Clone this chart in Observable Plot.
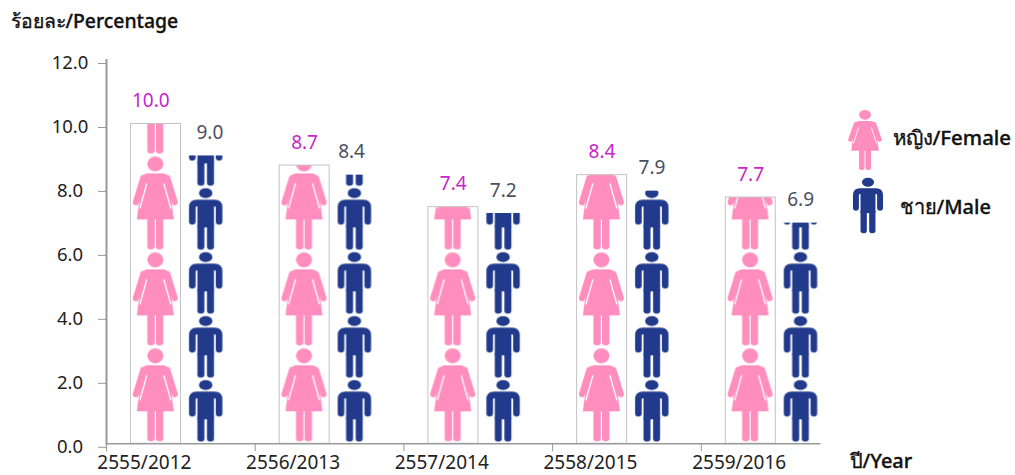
<!DOCTYPE html>
<html><head><meta charset="utf-8">
<script src="https://cdn.jsdelivr.net/npm/d3@7"></script>
<script src="https://cdn.jsdelivr.net/npm/@observablehq/plot@0.6"></script>
<style>html,body{margin:0;padding:0;background:#fff}svg{display:block}</style>
</head><body><div id="chart"></div>
<script>
const years = ["2555/2012","2556/2013","2557/2014","2558/2015","2559/2016"];
const female = [10.0,8.7,7.4,8.4,7.7];
const male = [9.0,8.4,7.2,7.9,6.9];
const yTicks = [0,2,4,6,8,10,12];
const femaleRows = years.map((year,i)=>({year,value:female[i]}));
const maleRows = years.map((year,i)=>({year,value:male[i]}));

const PINK="#ff8dbe", NAVY="#223a8b";
const FONT='"Noto Sans", sans-serif';
const W=1015,H=475,L=106,T=59.5,B=31.7;
const note=(t,x,y,o={})=>Plot.text([t],{text:d=>d,frameAnchor:"top-left",dx:x-L,dy:y-T,textAnchor:"start",lineAnchor:"middle",fontSize:20,fontWeight:500,fill:"#111",stroke:"#111",strokeWidth:0.35,...o});
const valueLabels=(rows,dx,fill,firstDx,secondDx)=>rows.map((r,i)=>Plot.text([r],{x:"year",y:"value",text:d=>d.value.toFixed(1),dx:dx+(i===0?firstDx:i===1?secondDx:0),dy:-23,fontSize:19,fill}));

const plot=Plot.plot({
  width:W,height:H,marginLeft:L,marginTop:T,marginBottom:B,marginRight:W-849.5,
  style:{fontFamily:FONT,background:"#fff",overflow:"visible"},
  x:{type:"band",domain:years,range:[L,849.5],padding:0,round:false,axis:null},
  y:{domain:[0,12],range:[H-B,T],axis:null},
  marks:[
    Plot.barY(femaleRows,{x:"year",y:"value",fill:"url(#femaleTile)",stroke:"#c4c4c4",strokeWidth:1,insetLeft:24.5,insetRight:74.2}),
    Plot.barY(maleRows,{x:"year",y:"value",fill:"url(#maleTile)",insetLeft:78,insetRight:30}),
    Plot.ruleY([0],{stroke:"#999",strokeWidth:1.5,insetRight:29}),
    Plot.frame({anchor:"left",stroke:"#999",strokeWidth:2}),
    Plot.axisY({ticks:yTicks,tickSize:8,tickPadding:28.5,textAnchor:"middle",dy:3.5,tickFormat:d=>d.toFixed(1),fontSize:18.5,stroke:"#999",fill:"#222",label:null}),
    Plot.axisX({tickSize:8,dx:-74.35,text:null,stroke:"#999",label:null}),
    Plot.axisX({tickSize:0,tickPadding:12,dx:-36.5,fontSize:19,fill:"#222",label:null}),
    ...valueLabels(femaleRows,-25,"#c826c8",-5,0),
    ...valueLabels(maleRows,25,"#4a5060",4,-3),
    note("ร้อยละ/Percentage",10,21,{fontSize:19.4}),
    note("ปี/Year",849,461),
    note("หญิง/Female",892,138,{fontSize:20.4}),
    note("ชาย/Male",899,207)
  ]
});

const figureFemale=`<ellipse cx="0" cy="-87.5" rx="8" ry="7.5"/>
<path d="M-8,-78H8Q11.5,-78 13,-74L18.5,-32H-18.5L-13,-74Q-11.5,-78 -8,-78Z"/>
<path d="M-12,-73.5L-19.5,-49M12,-73.5L19.5,-49" fill="none" stroke="${PINK}" stroke-width="6" stroke-linecap="round"/>
<path d="M-8.5,-68L-15.5,-43M8.5,-68L15.5,-43" fill="none" stroke="#fff" stroke-width="1.3"/>
<rect x="-8" y="-36" width="7.4" height="34" rx="3"/><rect x="0.6" y="-36" width="7.4" height="34" rx="3"/>`;
const figureMale=`<ellipse cx="0" cy="-58.3" rx="6.7" ry="5"/>
<path d="M-13.4,-30V-44Q-13.4,-48.4 -9,-48.4H9Q13.4,-48.4 13.4,-44V-30" fill="none" stroke="${NAVY}" stroke-width="6.6" stroke-linecap="round"/>
<rect x="-8.3" y="-50" width="16.6" height="26"/>
<rect x="-8.3" y="-28" width="7" height="26.3" rx="3"/><rect x="1.3" y="-28" width="7" height="26.3" rx="3"/>`;

const svg=d3.select(plot);
const xs=plot.scale("x"), ys=plot.scale("y");
const x0=xs.apply(years[0]), step=xs.step, base=ys.apply(0);
const defs=svg.insert("defs",":first-child");
function tile(id,units,cx,color,shape){
  const h=base-ys.apply(units);
  const p=defs.append("pattern").attr("id",id).attr("patternUnits","userSpaceOnUse")
    .attr("width",step).attr("height",h).attr("patternTransform",`translate(${x0},${base-h})`);
  p.append("rect").attr("width",step).attr("height",h).attr("fill","#fff");
  p.append("g").attr("transform",`translate(${cx},${h})`).attr("fill",color).html(shape);
}
tile("femaleTile",3,49.3,PINK,figureFemale);
tile("maleTile",2,99.7,NAVY,figureMale);
svg.append("g").attr("transform","translate(865,171.3) scale(0.75,0.645)").attr("fill",PINK).html(figureFemale);
svg.append("g").attr("transform","translate(868,234.7) scale(0.9,0.9)").attr("fill",NAVY).html(figureMale);
document.getElementById("chart").append(plot);
</script></body></html>
